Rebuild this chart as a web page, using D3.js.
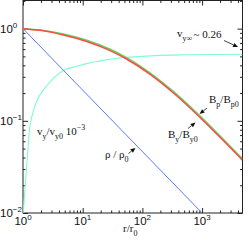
<!DOCTYPE html>
<html>
<head>
<meta charset="utf-8">
<script src="https://cdn.jsdelivr.net/npm/d3@7"></script>
<style>
  body { margin: 0; background: #fff; }
  svg { display: block; }
</style>
</head>
<body>
<div id="chart"></div>
<script>
// values, r/r0 on x
const bR  = [1, 1.93, 4.74, 11.7, 28.8, 51.5, 135, 355, 933, 2020, 4750];
const byV = [1, 0.958, 0.852, 0.725, 0.578, 0.477, 0.319, 0.193, 0.108, 0.0658, 0.0374];
const bpV = [1, 0.965, 0.875, 0.75, 0.598, 0.494, 0.33, 0.2, 0.112, 0.068, 0.0387];

const vR = [1.01, 1.15, 1.3, 1.45, 1.75, 2.5, 4.7, 8, 12, 20, 30, 50, 160, 500, 4750];
const vV = [0.01, 0.032, 0.085, 0.12, 0.17, 0.24, 0.35, 0.39, 0.42, 0.447, 0.468, 0.485, 0.51, 0.52, 0.527];

const rhoR = [1, 4.7, 1000];
const rhoV = [1, 0.356, 0.01];

const xMajor = [1, 10, 100, 1000];
const xExp = ["0", "1", "2", "3"];
const yMajor = [0.01, 0.1, 1];
const yExp = ["\u22122", "\u22121", "0"];

const W = 249, H = 249;
const mLeft = 23, mRight = 242.5, mTop = 0.5, mBottom = 213;

const x = d3.scaleLog().domain([1, 4750]).range([mLeft, mRight]);
const y = d3.scaleLog().domain([0.01, 2.02]).range([mBottom, mTop]);

const svg = d3.select("#chart").append("svg")
    .attr("width", W)
    .attr("height", H);

svg.append("clipPath").attr("id", "plot")
  .append("rect")
    .attr("x", mLeft).attr("y", mTop)
    .attr("width", mRight - mLeft).attr("height", mBottom - mTop);

// minor ticks = the log scale's 2..9 ticks
const xMinor = x.ticks().filter(d => !xMajor.includes(d));
const yMinor = y.ticks().filter(d => !yMajor.some(m => Math.abs(m - d) < 1e-9));

function tickGroup(axis, tr) {
  const g = svg.append("g").attr("transform", tr).call(axis);
  g.select(".domain").remove();
  g.selectAll("line").attr("stroke", "#222");
  return g;
}

tickGroup(d3.axisBottom(x).tickValues(xMajor).tickSize(-5).tickFormat(""), `translate(0,${mBottom})`);
tickGroup(d3.axisBottom(x).tickValues(xMinor).tickSize(-2.5).tickFormat(""), `translate(0,${mBottom})`);
tickGroup(d3.axisTop(x).tickValues(xMajor).tickSize(-5).tickFormat(""), `translate(0,${mTop})`);
tickGroup(d3.axisTop(x).tickValues(xMinor).tickSize(-2.5).tickFormat(""), `translate(0,${mTop})`);
tickGroup(d3.axisLeft(y).tickValues(yMajor).tickSize(-5).tickFormat(""), `translate(${mLeft},0)`);
tickGroup(d3.axisLeft(y).tickValues(yMinor).tickSize(-2.5).tickFormat(""), `translate(${mLeft},0)`);
tickGroup(d3.axisRight(y).tickValues(yMajor).tickSize(-5).tickFormat(""), `translate(${mRight},0)`);
tickGroup(d3.axisRight(y).tickValues(yMinor).tickSize(-2.5).tickFormat(""), `translate(${mRight},0)`);

// frame
svg.append("rect")
    .attr("x", mLeft).attr("y", mTop)
    .attr("width", mRight - mLeft).attr("height", mBottom - mTop)
    .attr("fill", "none")
    .attr("stroke", "#222")
    .attr("stroke-width", 1);

// tick labels
const sans = "'Liberation Sans', Arial, sans-serif";
xMajor.forEach((v, i) => {
  const t = svg.append("text")
      .attr("x", x(v)).attr("y", 225)
      .attr("text-anchor", "middle")
      .style("font-family", sans)
      .style("font-size", "11.5px")
      .attr("fill", "#111");
  t.append("tspan").text("10");
  t.append("tspan").attr("dy", -5).style("font-size", "8px").text(xExp[i]);
});
yMajor.forEach((v, i) => {
  const t = svg.append("text")
      .attr("x", 0).attr("y", y(v) + 4)
      .style("font-family", sans)
      .style("font-size", "11.5px")
      .attr("fill", "#111");
  t.append("tspan").text("10");
  t.append("tspan").attr("dy", -5).style("font-size", "8px").text(yExp[i]);
});

// curves
const line = d3.line()
    .x(d => x(d[0]))
    .y(d => y(d[1]))
    .curve(d3.curveMonotoneX);

const curves = svg.append("g").attr("clip-path", "url(#plot)");

curves.append("path")
    .attr("d", line(vR.map((r, i) => [r, vV[i]])))
    .attr("fill", "none").attr("stroke", "#80fcd0").attr("stroke-width", 1.1);

curves.append("path")
    .attr("d", line(rhoR.map((r, i) => [r, rhoV[i]])))
    .attr("fill", "none").attr("stroke", "#5a78ff").attr("stroke-width", 1);

curves.append("path")
    .attr("d", line(bR.map((r, i) => [r, bpV[i]])))
    .attr("fill", "none").attr("stroke", "#5fd35a").attr("stroke-width", 1.5);

curves.append("path")
    .attr("d", line(bR.map((r, i) => [r, byV[i]])))
    .attr("fill", "none").attr("stroke", "#ff4a4a").attr("stroke-width", 1.5);

// annotations
const serif = "'Liberation Serif', 'Times New Roman', serif";

function label(px, py, parts, anchor) {
  const t = svg.append("text")
      .attr("x", px).attr("y", py)
      .attr("text-anchor", anchor || "start")
      .style("font-family", serif)
      .style("font-size", "11px")
      .attr("fill", "#111");
  let shift = 0;
  parts.forEach(p => {
    const want = p[1] === "sub" ? 4 : p[1] === "sup" ? -5 : 0;
    t.append("tspan")
        .attr("dy", want - shift)
        .style("font-size", p[1] ? "8px" : "11px")
        .text(p[0]);
    shift = want;
  });
}

function arrow(x1, y1, x2, y2) {
  const a = Math.atan2(y2 - y1, x2 - x1);
  const len = 5, wid = 2.2;
  const bx = x2 - len * Math.cos(a), by = y2 - len * Math.sin(a);
  svg.append("line")
      .attr("x1", x1).attr("y1", y1).attr("x2", bx).attr("y2", by)
      .attr("stroke", "#111").attr("stroke-width", 0.8);
  svg.append("polygon")
      .attr("points", [
        [x2, y2],
        [bx + wid * Math.sin(a), by - wid * Math.cos(a)],
        [bx - wid * Math.sin(a), by + wid * Math.cos(a)]
      ].map(p => p.join(",")).join(" "))
      .attr("fill", "#111");
}

label(177, 37, [["v"], ["y\u221e", "sub"]]);
label(221.5, 38, [["~ 0.26"]], "end");
arrow(224, 40.5, 238, 47);

label(209, 103, [["B"], ["p", "sub"], ["/B"], ["p0", "sub"]]);
arrow(207, 108, 199.5, 114);

label(168, 137.5, [["B"], ["y", "sub"], ["/B"], ["y0", "sub"]]);
arrow(188, 128.5, 195.5, 122.5);

label(105, 158, [["\u03c1 / \u03c1"], ["0", "sub"]]);
arrow(128.5, 153.5, 135.5, 148);

label(37, 135, [["v"], ["y", "sub"], ["/v"], ["y0", "sub"], [" 10"], ["\u22123", "sup"]]);

label(123, 232, [["r/r"], ["0", "sub"]]);
</script>
</body>
</html>
